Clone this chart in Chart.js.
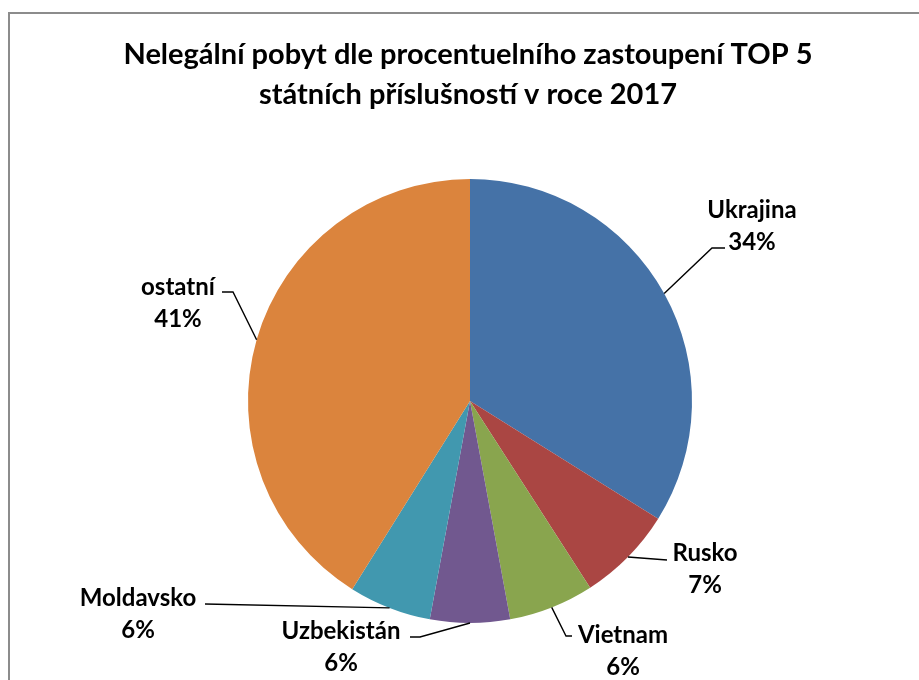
<!DOCTYPE html>
<html>
<head>
<meta charset="utf-8">
<script src="https://cdn.jsdelivr.net/npm/chart.js@4.4.1/dist/chart.umd.min.js"></script>
<style>
  html, body { margin: 0; padding: 0; background: #fff; }
  #wrap { position: relative; width: 919px; height: 680px; }
</style>
</head>
<body>
<div id="wrap"><canvas id="chartPie"></canvas></div>
<script>
'use strict';

var categories = ['Ukrajina', 'Rusko', 'Vietnam', 'Uzbekistán', 'Moldavsko', 'ostatní'];
var shares = [33.9, 7.0, 6.2, 5.8, 6.0, 41.1];
var sliceColors = ['#4572A7', '#AA4643', '#89A54E', '#71588F', '#4198AF', '#DB843D'];
var titleLines = ['Nelegální pobyt dle procentuelního zastoupení TOP 5', 'státních příslušností v roce 2017'];

// label placement relative to pie centre: text centre, leader end, elbow offset
var labelLayout = [
  { tx: 282, ty: -175, ex: 255, ey: -153, elbow: -13 },
  { tx: 235, ty: 168, ex: 197, ey: 159, elbow: 0 },
  { tx: 153, ty: 250, ex: 102, ey: 235, elbow: -6 },
  { tx: -129, ty: 246, ex: -60, ey: 236, elbow: 10 },
  { tx: -332, ty: 213, ex: -265, ey: 203, elbow: 0 },
  { tx: -292, ty: -98, ex: -248, ey: -109, elbow: 11 }
];

var FONT = 'Lato, "Open Sans", "Liberation Sans", sans-serif';

var decorPlugin = {
  id: 'decor',
  beforeDraw: function (chart) {
    var ctx = chart.ctx;
    ctx.save();
    ctx.strokeStyle = '#8c8c8c';
    ctx.lineWidth = 2;
    ctx.strokeRect(9, 13, 940, 700);
    ctx.fillStyle = '#000';
    ctx.font = 'bold 29px ' + FONT;
    ctx.textAlign = 'center';
    ctx.textBaseline = 'middle';
    ctx.fillText(titleLines[0], 468, 55);
    ctx.fillText(titleLines[1], 468, 95);
    ctx.restore();
  },
  afterDraw: function (chart) {
    var ctx = chart.ctx;
    var meta = chart.getDatasetMeta(0);
    var total = shares.reduce(function (a, b) { return a + b; }, 0);
    ctx.save();
    meta.data.forEach(function (arc, i) {
      var p = arc.getProps(['x', 'y', 'startAngle', 'endAngle', 'outerRadius'], true);
      var mid = (p.startAngle + p.endAngle) / 2;
      var sx = p.x + Math.cos(mid) * p.outerRadius;
      var sy = p.y + Math.sin(mid) * p.outerRadius;
      var lay = labelLayout[i];
      var ex = p.x + lay.ex, ey = p.y + lay.ey;
      ctx.strokeStyle = '#000';
      ctx.lineWidth = 1.4;
      ctx.beginPath();
      ctx.moveTo(sx, sy);
      ctx.lineTo(ex + lay.elbow, ey);
      ctx.lineTo(ex, ey);
      ctx.stroke();

      var pct = Math.round(shares[i] / total * 100) + '%';
      ctx.fillStyle = '#000';
      ctx.font = 'bold 24px ' + FONT;
      ctx.textAlign = 'center';
      ctx.textBaseline = 'middle';
      ctx.fillText(categories[i], p.x + lay.tx, p.y + lay.ty - 16);
      ctx.fillText(pct, p.x + lay.tx, p.y + lay.ty + 16);
    });
    ctx.restore();
  }
};

new Chart(document.getElementById('chartPie').getContext('2d'), {
  type: 'pie',
  data: {
    labels: categories,
    datasets: [{
      data: shares,
      backgroundColor: sliceColors,
      borderColor: '#ffffff',
      borderWidth: 0
    }]
  },
  options: {
    animation: false,
    responsive: true,
    maintainAspectRatio: false,
    layout: { padding: { top: 179, bottom: 57, left: 248, right: 227 } },
    plugins: {
      legend: { display: false },
      title: { display: false },
      tooltip: { enabled: false }
    }
  },
  plugins: [decorPlugin]
});
</script>
</body>
</html>
